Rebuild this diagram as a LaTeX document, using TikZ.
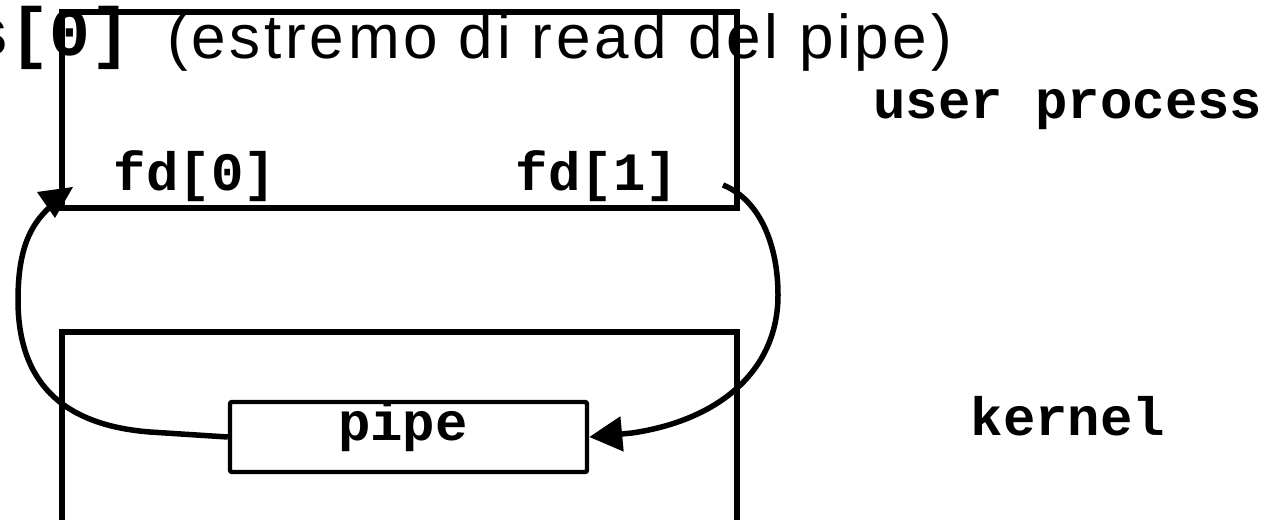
\documentclass[tikz,border=0pt]{standalone}
\usepackage{fontspec}
\setmonofont{Liberation Mono}
\newfontfamily\arialfont{Liberation Sans}
\usetikzlibrary{arrows.meta}
\begin{document}
\begin{tikzpicture}[x=0.5pt,y=-0.5pt,
  mono/.style={font=\fontsize{27}{30}\selectfont\ttfamily\bfseries, inner sep=0pt, anchor=base},
  monotitle/.style={font=\fontsize{34}{38}\selectfont\ttfamily\bfseries, inner sep=0pt, anchor=base west},
  sanstitle/.style={font=\fontsize{31}{35}\selectfont\arialfont, inner sep=0pt, anchor=base west},
  boxline/.style={line width=2.75pt},
  conn/.style={line width=2.75pt},
  bigtip/.style={-{Triangle[length=16.5pt,width=17pt]}}]
\useasboundingbox (0,0) rectangle (1264,520);
% title
\node[monotitle] (t1) at (-32,55) {s[0]};
\node[sanstitle] (t2) at (167,58) {\addfontfeature{LetterSpace=6}(estremo di read del pipe)};
% user process box
\node[draw, boxline, minimum width=337.5pt, minimum height=98pt, inner sep=0pt] (proc) at (399.5,110) {};
% kernel box (open at bottom)
\draw[boxline] (62,520) -- (62,332) -- (737,332) -- (737,520);
% pipe
\node[draw, line width=2.2pt, minimum width=178.5pt, minimum height=35pt, inner sep=0pt, rounded corners=1pt] (pipe) at (408.5,437) {};
\node[mono] (pipelabel) at (403,440) {pipe};
% labels
\node[mono] (fd0) at (195,190) {fd[0]};
\node[mono] (fd1) at (597,190) {fd[1]};
\node[mono] (user) at (1068,118) {user process};
\node[mono] (kern) at (1068,435) {kernel};
% connectors
\coordinate (fd1tail) at (723,185);
\draw[conn, bigtip] (fd1tail) .. controls (760,200) and (778,245) .. (778,295) .. controls (778,370) and (720,420) .. (632,433) -- (pipe.east);
\coordinate (fd0head) at (50,207);
\draw[conn] (pipe.west) -- (150,432) .. controls (60,425) and (18,380) .. (18,300) .. controls (18,250) and (30,225) .. (fd0head);
\fill (37,192) -- (73,187) -- (55,218) -- cycle;
\end{tikzpicture}
\end{document}
